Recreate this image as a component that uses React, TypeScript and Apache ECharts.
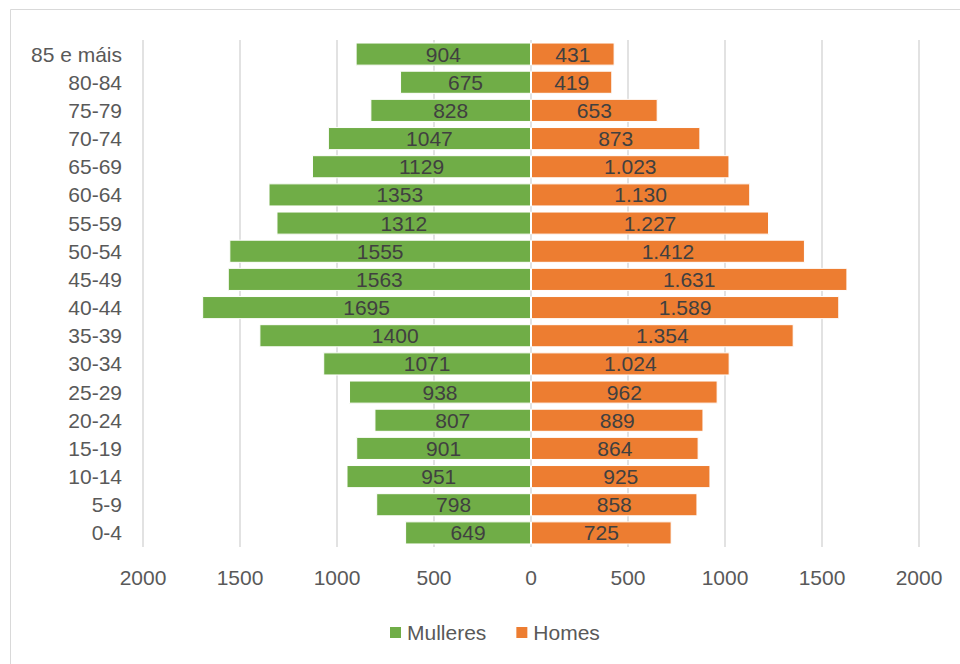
import React, { useEffect, useRef } from "react";
import * as echarts from "echarts";

const categories = ["0-4", "5-9", "10-14", "15-19", "20-24", "25-29", "30-34", "35-39", "40-44", "45-49", "50-54", "55-59", "60-64", "65-69", "70-74", "75-79", "80-84", "85 e máis"];
const mulleres = [649, 798, 951, 901, 807, 938, 1071, 1400, 1695, 1563, 1555, 1312, 1353, 1129, 1047, 828, 675, 904];
const homes = [725, 858, 925, 864, 889, 962, 1024, 1354, 1589, 1631, 1412, 1227, 1130, 1023, 873, 653, 419, 431];
const xTicks = [-2000, -1500, -1000, -500, 0, 500, 1000, 1500, 2000];

const FONT = "'Liberation Sans', Arial, sans-serif";

function dotThousands(v: number): string {
  const s = String(Math.round(Math.abs(v)));
  return s.replace(/\B(?=(\d{3})+(?!\d))/g, ".");
}

export default function App() {
  const ref = useRef<HTMLDivElement>(null);
  useEffect(() => {
    document.body.style.margin = "0";
    if (!ref.current) return;
    const chart = echarts.init(ref.current, undefined, { renderer: "svg" });
    chart.setOption({
      animation: false,
      backgroundColor: "#ffffff",
      textStyle: { fontFamily: FONT },
      graphic: [
        {
          type: "rect",
          shape: { x: 10.5, y: 9.5, width: 980, height: 700 },
          style: { fill: "none", stroke: "#d9d9d9", lineWidth: 1 },
          silent: true,
        },
      ],
      grid: { left: 143, right: 41, top: 40, bottom: 117, containLabel: false },
      legend: {
        data: ["Mulleres", "Homes"],
        left: 383,
        top: 617,
        icon: "rect",
        itemWidth: 13,
        itemHeight: 13,
        itemGap: 28,
        textStyle: { color: "#595959", fontSize: 21, fontFamily: FONT },
      },
      xAxis: {
        type: "value",
        min: xTicks[0],
        max: xTicks[xTicks.length - 1],
        interval: 500,
        axisLine: { show: false },
        axisTick: { show: false },
        splitLine: { show: true, lineStyle: { color: "#d9d9d9", width: 1.5 } },
        axisLabel: {
          color: "#595959",
          fontSize: 21,
          fontFamily: FONT,
          margin: 20,
          formatter: (v: number) => String(Math.abs(v)),
        },
      },
      yAxis: {
        type: "category",
        data: categories,
        axisLine: { show: false },
        axisTick: { show: false },
        axisLabel: { color: "#595959", fontSize: 21, fontFamily: FONT, margin: 21 },
      },
      series: [
        {
          name: "Mulleres",
          type: "bar",
          stack: "total",
          data: mulleres.map((v) => -v),
          barCategoryGap: "18%",
          itemStyle: { color: "#70ad47", borderColor: "#ffffff", borderWidth: 1 },
          label: {
            show: true,
            position: "inside",
            color: "#404040",
            fontSize: 21,
            fontFamily: FONT,
            formatter: (p: any) => String(Math.abs(p.value)),
          },
        },
        {
          name: "Homes",
          type: "bar",
          stack: "total",
          data: homes,
          barCategoryGap: "18%",
          itemStyle: { color: "#ed7d31", borderColor: "#ffffff", borderWidth: 1 },
          label: {
            show: true,
            position: "inside",
            color: "#404040",
            fontSize: 21,
            fontFamily: FONT,
            formatter: (p: any) => dotThousands(p.value),
          },
        },
      ],
    });
    return () => chart.dispose();
  }, []);
  return <div ref={ref} style={{ width: 960, height: 664 }} />;
}
